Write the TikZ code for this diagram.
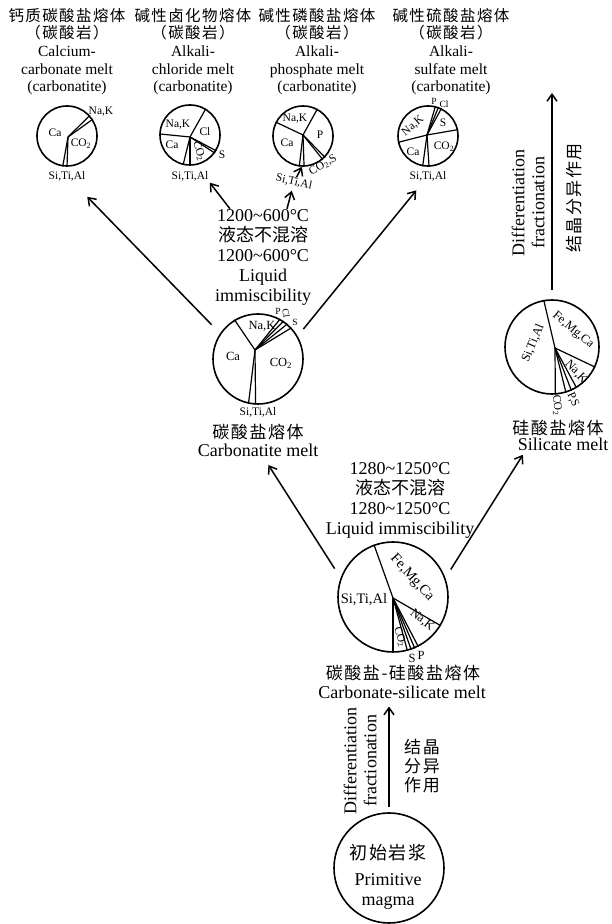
\documentclass[tikz,border=0pt]{standalone}
\usepackage{fontspec}
\setmainfont{Liberation Serif}
\newfontfamily\cjk{Noto Sans CJK SC}
\newfontfamily\cjkwide[LetterSpace=9]{Noto Sans CJK SC}
\usetikzlibrary{positioning, arrows.meta}

\tikzset{
  pie/.style={circle, draw, line width=1.6pt, inner sep=0pt},
  cut/.style={line width=1.2pt},
  flow/.style={line width=1.5pt, -{Straight Barb[length=7pt,width=10pt]}},
  lab/.style={inner sep=0pt, font=\fontsize{11.5}{12.5}\selectfont},
  midlab/.style={inner sep=0pt, font=\fontsize{12.5}{14}\selectfont},
  biglab/.style={inner sep=0pt, font=\fontsize{14.5}{16}\selectfont},
  tinylab/.style={inner sep=0pt, font=\fontsize{9.5}{10}\selectfont},
  head/.style={inner sep=0pt, align=center, font=\cjkwide\fontsize{15.5}{17}\selectfont},
  headen/.style={inner sep=0pt, align=center, font=\fontsize{15.5}{17.5}\selectfont},
  txt/.style={inner sep=0pt, align=center, font=\fontsize{18}{20}\selectfont},
  cntxt/.style={inner sep=0pt, align=center, font=\cjkwide\fontsize{17}{19}\selectfont},
}

\begin{document}
\begin{tikzpicture}[x=1pt, y=1pt]
  \useasboundingbox (0,0) rectangle (612,924);

  % titles of the four carbonatite melts
  \node[head] (h1) at (67,900) {钙质碳酸盐熔体\\（碳酸岩）};
  \node[headen, below=6pt of h1] (h1en) {Calcium-\\carbonate melt\\(carbonatite)};
  \node[head] (h2) at (193,900) {碱性卤化物熔体\\（碳酸岩）};
  \node[headen, below=6pt of h2] (h2en) {Alkali-\\chloride melt\\(carbonatite)};
  \node[head] (h3) at (317,900) {碱性磷酸盐熔体\\（碳酸岩）};
  \node[headen, below=6pt of h3] (h3en) {Alkali-\\phosphate melt\\(carbonatite)};
  \node[head] (h4) at (451,900) {碱性硫酸盐熔体\\（碳酸岩）};
  \node[headen, below=6pt of h4] (h4en) {Alkali-\\sulfate melt\\(carbonatite)};

  % calcium carbonate pie
  \node[pie, minimum size=60pt] (calc) at (67,788) {};
  \coordinate (calcv) at (68,787);
  \foreach \a in {42,33,-90,-98} \draw[cut] (calcv) -- (calc.\a);
  \node[lab] (calcca) at (55,791) {Ca};
  \node[lab] (calcco) at (81,780) {CO\textsubscript{2}};
  \node[lab] (calcna) at (101,812) {Na,K};
  \node[lab] (calcsi) at (67,748) {Si,Ti,Al};

  % alkali chloride pie
  \node[pie, minimum size=60pt] (chlor) at (190,789) {};
  \coordinate (chlorv) at (190,787);
  \foreach \a in {178,59,-31,-36,-90,-103} \draw[cut] (chlorv) -- (chlor.\a);
  \node[lab] (chlorna) at (178,799) {Na,K};
  \node[lab] (chlorcl) at (205,792) {Cl};
  \node[lab] (chlorca) at (172,779) {Ca};
  \node[lab, rotate=-72] (chlorco) at (199,773) {CO\textsubscript{2}};
  \node[lab] (chlors) at (222,769) {S};
  \node[lab] (chlorsi) at (190,748) {Si,Ti,Al};

  % alkali phosphate pie
  \node[pie, minimum size=60pt] (phos) at (303,788) {};
  \coordinate (phosv) at (303,789);
  \foreach \a in {153,62,-44,-50,-88,-97} \draw[cut] (phosv) -- (phos.\a);
  \node[lab] (phosna) at (295,805) {Na,K};
  \node[lab] (phosp) at (320,789) {P};
  \node[lab] (phosca) at (287,781) {Ca};
  \node[lab, rotate=31] (phosco) at (323,759) {CO\textsubscript{2},S};
  \node[lab, rotate=-13] (phossi) at (294,742) {Si,Ti,Al};

  % alkali sulfate pie
  \node[pie, minimum size=60pt] (sulf) at (428,788) {};
  \coordinate (sulfv) at (427,789);
  \foreach \a in {192,12,76,70,64,-88,-100} \draw[cut] (sulfv) -- (sulf.\a);
  \node[lab, rotate=40] (sulfna) at (413,798) {Na,K};
  \node[lab] (sulfs) at (443,801) {S};
  \node[lab] (sulfca) at (413,772) {Ca};
  \node[lab] (sulfco) at (444,777) {CO\textsubscript{2}};
  \node[tinylab] (sulfp) at (434,823) {P};
  \node[tinylab] (sulfcl) at (444,820) {Cl};
  \node[lab] (sulfsi) at (428,748) {Si,Ti,Al};

  % carbonatite melt
  \node[txt] (t1) at (263,667) {1200\textasciitilde600°C\\{\cjk 液态不混溶}\\1200\textasciitilde600°C\\Liquid\\immiscibility};
  \node[pie, minimum size=90pt] (carb) at (258,565) {};
  \coordinate (carbv) at (255,574);
  \foreach \a in {121,61,56,50,43,-93,-102} \draw[cut] (carbv) -- (carb.\a);
  \node[midlab] (carbna) at (262,598) {Na,K};
  \node[midlab] (carbca) at (233,568) {Ca};
  \node[midlab] (carbco) at (281,561) {CO\textsubscript{2}};
  \node[tinylab] (carbp) at (278,613) {P};
  \node[tinylab, rotate=-80] (carbcl) at (286,611) {Cl};
  \node[tinylab] (carbs) at (295,602) {S};
  \node[lab] (carbsi) at (258,512) {Si,Ti,Al};
  \node[cntxt] (carbcn) at (258,492) {碳酸盐熔体};
  \node[txt] (carben) at (258,474) {Carbonatite melt};

  % silicate melt
  \node[pie, minimum size=94pt] (sil) at (552,577) {};
  \coordinate (silv) at (555,576);
  \foreach \a in {100,-25,-59,-66,-73,-86} \draw[cut] (silv) -- (sil.\a);
  \node[midlab, rotate=67] (silsi) at (533,581) {Si,Ti,Al};
  \node[midlab, rotate=-40] (silfe) at (573,594) {Fe,Mg,Ca};
  \node[midlab, rotate=-47] (silna) at (576,552) {Na,K};
  \node[lab, rotate=-66] (silps) at (573,524) {P,S};
  \node[lab, rotate=-85] (silco) at (557,519) {CO\textsubscript{2}};
  \node[cntxt] (silcn) at (558,496) {硅酸盐熔体};
  \node[txt] (silen) at (563,480) {Silicate melt};
  \coordinate (fractop) at (552,831);
  \node[txt, rotate=90] (fracen) at (528,721) {Differentiation\\fractionation};
  \node[cntxt, rotate=90] (fraccn) at (574,726) {结晶分异作用};

  % carbonate-silicate melt
  \node[txt] (t2) at (400,424) {1280\textasciitilde1250°C\\{\cjk 液态不混溶}\\1280\textasciitilde1250°C\\Liquid immiscibility};
  \node[pie, minimum size=110pt] (cs) at (393,327) {};
  \coordinate (csv) at (393,326);
  \foreach \a in {110,-31,-63,-67,-71,-75,-90} \draw[cut] (csv) -- (cs.\a);
  \node[biglab] (cssi) at (364,324) {Si,Ti,Al};
  \node[biglab, rotate=-48] (csfe) at (412,346) {Fe,Mg,Ca};
  \node[midlab, rotate=-38] (csna) at (422,304) {Na,K};
  \node[lab, rotate=-72] (csco) at (400,287) {CO\textsubscript{2}};
  \node[midlab] (css) at (412,266) {S};
  \node[midlab] (csp) at (421,269) {P};
  \node[cntxt] (cscn) at (403,251) {碳酸盐-硅酸盐熔体};
  \node[txt] (csen) at (402,232) {Carbonate-silicate melt};

  % primitive magma
  \node[pie, minimum size=110pt] (prim) at (389,56) {};
  \node[txt] (primtxt) at (388,47) {{\cjkwide 初始岩浆}\\[6pt]Primitive\\magma};
  \node[txt, rotate=90] (diffen) at (360,163) {Differentiation\\fractionation};
  \node[cntxt] (diffcn) at (422,158) {结晶\\分异\\作用};

  % arrows
  \draw[flow, shorten <=5pt, shorten >=8pt] (prim.north) -- (prim.north |- csen.south);
  \draw[flow, shorten <=11pt, shorten >=10pt] (cs.160) -- ([xshift=5pt]carben.south);
  \draw[flow, shorten <=10pt, shorten >=5pt] (cs.20) -- ([xshift=8pt]silen.south west);
  \draw[flow, shorten <=9pt] (sil.north) -- (fractop);
  \draw[flow, shorten <=12pt, shorten >=22pt] (carb.146) -- (calcsi);
  \draw[flow, shorten <=9pt, shorten >=12pt] (carb.30) -- (sulfsi);
  \draw[flow, shorten >=2pt] ([xshift=-33pt]t1.north) -- (chlorsi.south east);
  \draw[flow, shorten >=4pt] ([xshift=24pt]t1.north) -- (phossi);
  \draw[flow] (phossi) -- (phos.-92);
\end{tikzpicture}
\end{document}
